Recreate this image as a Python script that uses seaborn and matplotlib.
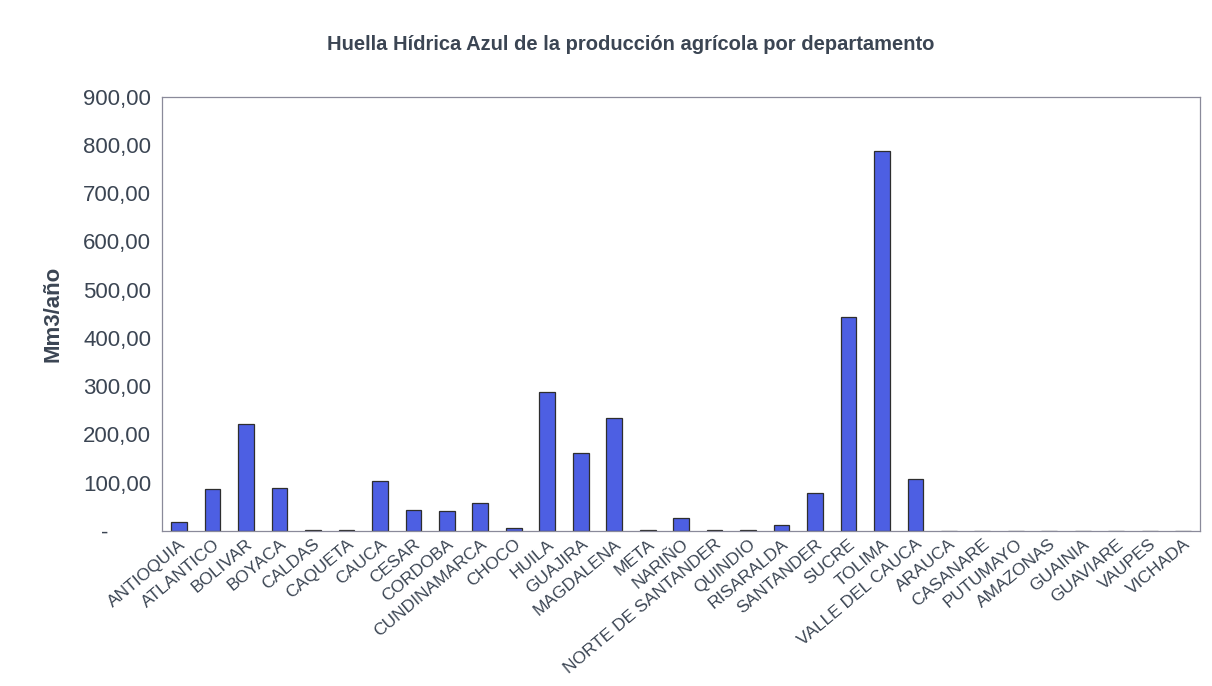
import matplotlib
matplotlib.use("Agg")
import matplotlib.pyplot as plt
import seaborn as sns
import pandas as pd
from matplotlib.ticker import FixedLocator, FuncFormatter

departamentos = [
    "ANTIOQUIA", "ATLANTICO", "BOLIVAR", "BOYACA", "CALDAS", "CAQUETA", "CAUCA",
    "CESAR", "CORDOBA", "CUNDINAMARCA", "CHOCO", "HUILA", "GUAJIRA", "MAGDALENA",
    "META", "NARIÑO", "NORTE DE SANTANDER", "QUINDIO", "RISARALDA", "SANTANDER",
    "SUCRE", "TOLIMA", "VALLE DEL CAUCA", "ARAUCA", "CASANARE", "PUTUMAYO",
    "AMAZONAS", "GUAINIA", "GUAVIARE", "VAUPES", "VICHADA",
]
huella_azul = [
    18, 87, 221, 90, 2, 1, 104,
    44, 41, 57, 6, 288, 161, 235,
    2, 27, 3, 2, 13, 78,
    444, 787, 108, 0, 0, 0,
    0, 0, 0, 0, 0,
]
y_ticks = [0, 100, 200, 300, 400, 500, 600, 700, 800, 900]

df = pd.DataFrame({"Departamento": departamentos, "Valor": huella_azul})

sns.set_theme(style="white")
plt.rcParams["font.family"] = ["Liberation Sans", "DejaVu Sans"]

text_col = "#3b4553"
fig = plt.figure(figsize=(12.12, 6.86), dpi=100)
ax = fig.add_axes([0.134, 0.226, 0.856, 0.633])

sns.barplot(data=df, x="Departamento", y="Valor", color="#4d5fe3",
            saturation=1, width=0.47, edgecolor="#2e2e2e", linewidth=0.9, ax=ax)

ax.set_ylim(0, 900)
ax.set_xlim(-0.5, len(departamentos) - 0.5)
ax.yaxis.set_major_locator(FixedLocator(y_ticks))

def fmt(v, pos):
    if abs(v) < 1e-9:
        return "-       "
    s = f"{v:,.2f}"
    return s.replace(",", "X").replace(".", ",").replace("X", ".")

ax.yaxis.set_major_formatter(FuncFormatter(fmt))
ax.tick_params(axis="y", length=0, pad=8, labelsize=16, labelcolor=text_col)
ax.tick_params(axis="x", length=0, pad=4, labelsize=12.5, labelcolor=text_col)
for lab in ax.get_xticklabels():
    lab.set_rotation(40)
    lab.set_ha("right")
    lab.set_rotation_mode("anchor")

ax.set_xlabel("")
ax.set_ylabel("Mm3/año", fontsize=16, fontweight="bold", color=text_col, labelpad=14)

for sp in ax.spines.values():
    sp.set_visible(True)
    sp.set_color("#8a8a9a")
    sp.set_linewidth(0.9)

fig.text(0.52, 0.935, "Huella Hídrica Azul de la producción agrícola por departamento",
         ha="center", va="center", fontsize=14.5, fontweight="bold", color=text_col)

fig.savefig("out.png", dpi=100, facecolor="white")
